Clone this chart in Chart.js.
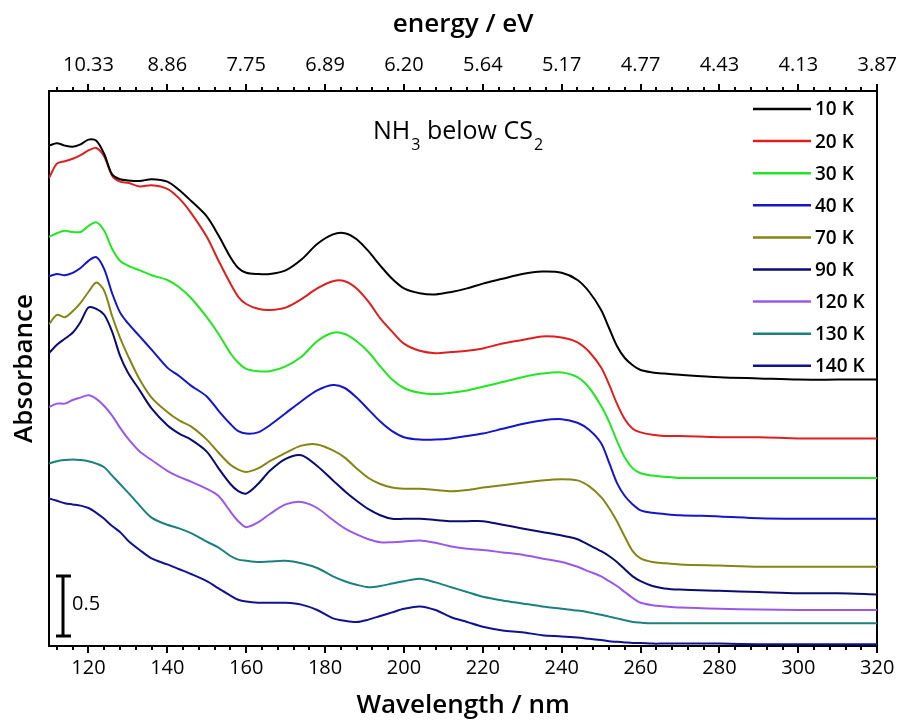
<!DOCTYPE html>
<html>
<head>
<meta charset="utf-8">
<script src="https://cdn.jsdelivr.net/npm/chart.js@4.4.0/dist/chart.umd.min.js"></script>
<style>
  html, body { margin: 0; padding: 0; background: #fff; }
  #wrap { width: 904px; height: 721px; }
</style>
</head>
<body>
<div id="wrap"><canvas id="myChart" width="904" height="721"></canvas></div>
<script>
const wavelength = [110, 112, 114, 116, 118, 120, 122, 124, 126, 128, 130, 133, 136, 140, 143, 146, 150, 153, 156, 158,
  160, 163, 166, 170, 174, 178, 182, 185, 188, 191, 194, 197, 200, 204, 208, 212, 216, 220, 225, 230,
  235, 240, 244, 247, 250, 252, 254, 256, 258, 260, 263, 266, 270, 280, 290, 300, 310, 320];

const tempLabels = ['10 K', '20 K', '30 K', '40 K', '70 K', '90 K', '120 K', '130 K', '140 K'];
const tempColors = ['#000000', '#dd1f1f', '#22e622', '#1515cc', '#858515', '#0b0b70', '#9a58e8', '#1a8080', '#12128f'];

const abs10 = [4.17, 4.19, 4.17, 4.16, 4.18, 4.22, 4.21, 4.10, 3.93, 3.89, 3.88, 3.875, 3.89, 3.87, 3.80, 3.71, 3.58, 3.42, 3.24, 3.15,
  3.11, 3.10, 3.10, 3.13, 3.22, 3.35, 3.43, 3.44, 3.39, 3.29, 3.17, 3.06, 2.98, 2.94, 2.93, 2.95, 2.98, 3.02, 3.06, 3.10,
  3.12, 3.11, 3.05, 2.95, 2.80, 2.65, 2.50, 2.40, 2.34, 2.30, 2.28, 2.27, 2.26, 2.24, 2.23, 2.22, 2.22, 2.22];
const abs20 = [3.90, 4.02, 4.04, 4.06, 4.09, 4.13, 4.15, 4.08, 3.92, 3.87, 3.86, 3.83, 3.84, 3.81, 3.73, 3.61, 3.41, 3.21, 3.02, 2.91,
  2.85, 2.81, 2.80, 2.82, 2.89, 2.98, 3.04, 3.04, 2.98, 2.87, 2.73, 2.62, 2.52, 2.46, 2.44, 2.45, 2.46, 2.48, 2.52, 2.55,
  2.58, 2.57, 2.53, 2.45, 2.32, 2.18, 2.02, 1.89, 1.81, 1.78, 1.76, 1.75, 1.75, 1.74, 1.74, 1.73, 1.73, 1.73];
const abs30 = [3.41, 3.44, 3.46, 3.45, 3.45, 3.50, 3.53, 3.46, 3.31, 3.21, 3.17, 3.13, 3.09, 3.05, 2.99, 2.90, 2.74, 2.60, 2.44, 2.36,
  2.31, 2.29, 2.29, 2.33, 2.41, 2.54, 2.61, 2.60, 2.54, 2.45, 2.33, 2.22, 2.15, 2.11, 2.10, 2.11, 2.13, 2.16, 2.20, 2.24,
  2.27, 2.28, 2.24, 2.15, 2.00, 1.87, 1.71, 1.57, 1.48, 1.44, 1.42, 1.41, 1.40, 1.40, 1.40, 1.40, 1.40, 1.40];
const abs40 = [3.08, 3.10, 3.09, 3.11, 3.15, 3.21, 3.24, 3.14, 2.94, 2.78, 2.69, 2.58, 2.47, 2.32, 2.25, 2.17, 2.08, 1.96, 1.85, 1.79,
  1.77, 1.78, 1.84, 1.94, 2.04, 2.13, 2.175, 2.15, 2.07, 1.97, 1.87, 1.79, 1.74, 1.72, 1.72, 1.73, 1.75, 1.77, 1.81, 1.85,
  1.88, 1.89, 1.86, 1.80, 1.69, 1.53, 1.36, 1.25, 1.18, 1.13, 1.11, 1.10, 1.09, 1.08, 1.065, 1.06, 1.06, 1.06];
const abs70 = [2.68, 2.76, 2.74, 2.79, 2.86, 2.95, 3.03, 2.96, 2.75, 2.57, 2.42, 2.22, 2.07, 1.95, 1.88, 1.83, 1.72, 1.61, 1.51, 1.47,
  1.45, 1.48, 1.54, 1.61, 1.67, 1.68, 1.63, 1.57, 1.48, 1.40, 1.35, 1.32, 1.31, 1.31, 1.30, 1.29, 1.30, 1.32, 1.34, 1.36,
  1.38, 1.39, 1.38, 1.33, 1.24, 1.15, 1.04, 0.91, 0.79, 0.73, 0.70, 0.69, 0.68, 0.67, 0.66, 0.66, 0.66, 0.66];
const abs90 = [2.44, 2.51, 2.56, 2.61, 2.70, 2.82, 2.81, 2.76, 2.62, 2.42, 2.28, 2.13, 1.98, 1.84, 1.77, 1.72, 1.62, 1.48, 1.35, 1.29,
  1.27, 1.35, 1.46, 1.56, 1.59, 1.50, 1.38, 1.29, 1.21, 1.14, 1.09, 1.06, 1.06, 1.06, 1.05, 1.04, 1.04, 1.04, 1.01, 0.98,
  0.95, 0.92, 0.89, 0.84, 0.79, 0.75, 0.70, 0.64, 0.58, 0.54, 0.50, 0.48, 0.47, 0.46, 0.45, 0.44, 0.44, 0.43];
const abs120 = [1.99, 2.02, 2.02, 2.05, 2.07, 2.09, 2.06, 2.00, 1.92, 1.82, 1.73, 1.62, 1.55, 1.46, 1.41, 1.37, 1.31, 1.25, 1.12, 1.04,
  0.99, 1.03, 1.10, 1.18, 1.20, 1.15, 1.05, 0.98, 0.93, 0.89, 0.865, 0.865, 0.87, 0.88, 0.86, 0.83, 0.81, 0.80, 0.78, 0.76,
  0.73, 0.70, 0.66, 0.62, 0.58, 0.54, 0.50, 0.45, 0.40, 0.36, 0.34, 0.33, 0.32, 0.31, 0.305, 0.30, 0.30, 0.30];
const abs130 = [1.52, 1.54, 1.55, 1.555, 1.55, 1.54, 1.52, 1.49, 1.42, 1.35, 1.28, 1.17, 1.07, 1.01, 0.98, 0.94, 0.87, 0.82, 0.75, 0.72,
  0.71, 0.70, 0.705, 0.71, 0.69, 0.65, 0.58, 0.54, 0.51, 0.49, 0.50, 0.52, 0.54, 0.56, 0.53, 0.49, 0.45, 0.41, 0.38, 0.355,
  0.33, 0.31, 0.295, 0.28, 0.26, 0.245, 0.23, 0.215, 0.20, 0.195, 0.19, 0.19, 0.19, 0.19, 0.19, 0.19, 0.19, 0.19];
const abs140 = [1.23, 1.21, 1.19, 1.18, 1.17, 1.15, 1.11, 1.06, 1.00, 0.95, 0.88, 0.80, 0.73, 0.68, 0.64, 0.60, 0.54, 0.48, 0.42, 0.385,
  0.37, 0.36, 0.36, 0.36, 0.345, 0.30, 0.23, 0.21, 0.20, 0.22, 0.25, 0.28, 0.31, 0.33, 0.30, 0.24, 0.20, 0.16, 0.13, 0.115,
  0.09, 0.08, 0.07, 0.06, 0.05, 0.04, 0.035, 0.03, 0.025, 0.025, 0.02, 0.02, 0.02, 0.02, 0.015, 0.015, 0.015, 0.015];

const allSeries = [abs10, abs20, abs30, abs40, abs70, abs90, abs120, abs130, abs140];

const wlTicks = [120, 140, 160, 180, 200, 220, 240, 260, 280, 300, 320];
const energyTicks = ['10.33', '8.86', '7.75', '6.89', '6.20', '5.64', '5.17', '4.77', '4.43', '4.13', '3.87'];

const FONT = "'Open Sans', 'Noto Sans', sans-serif";

const datasets = allSeries.map((s, i) => ({
  label: tempLabels[i],
  data: wavelength.map((w, j) => ({ x: w, y: s[j] })),
  borderColor: tempColors[i],
  borderWidth: 2,
  pointRadius: 0,
  tension: 0.3,
  fill: false
}));

const setTicks = (axis) => { axis.ticks = wlTicks.map(v => ({ value: v })); };

// minor ticks, scale bar, inner title and legend
const extras = {
  id: 'extras',
  afterDraw(chart) {
    const ctx = chart.ctx;
    const xs = chart.scales.x;
    const ys = chart.scales.y;
    const area = chart.chartArea;
    ctx.save();
    ctx.strokeStyle = '#000';
    ctx.lineWidth = 2;
    for (let v = 112; v < 320; v += 4) {
      if (v % 20 === 0) continue;
      const px = Math.round(xs.getPixelForValue(v));
      ctx.beginPath();
      ctx.moveTo(px, area.bottom);
      ctx.lineTo(px, area.bottom + 4);
      ctx.moveTo(px, area.top);
      ctx.lineTo(px, area.top - 4);
      ctx.stroke();
    }

    // 0.5 scale bar
    const yb = ys.getPixelForValue(0.083);
    const yt = ys.getPixelForValue(0.583);
    ctx.lineWidth = 3;
    ctx.beginPath();
    ctx.moveTo(63, yb); ctx.lineTo(63, yt);
    ctx.moveTo(56, yb); ctx.lineTo(71, yb);
    ctx.moveTo(56, yt); ctx.lineTo(71, yt);
    ctx.stroke();
    ctx.fillStyle = '#000';
    ctx.font = '20px ' + FONT;
    ctx.textBaseline = 'middle';
    ctx.textAlign = 'left';
    ctx.fillText('0.5', 72, (yb + yt) / 2 - 2);

    // title NH3 below CS2
    ctx.textBaseline = 'alphabetic';
    let tx = 373;
    const big = '25px ' + FONT;
    const small = '16px ' + FONT;
    ctx.font = big;
    ctx.fillText('NH', tx, 139);
    tx += ctx.measureText('NH').width + 1;
    ctx.font = small;
    ctx.fillText('3', tx, 150);
    tx += ctx.measureText('3').width;
    ctx.font = big;
    ctx.fillText(' below CS', tx, 139);
    tx += ctx.measureText(' below CS').width + 1;
    ctx.font = small;
    ctx.fillText('2', tx, 150);

    // legend
    ctx.font = '600 19px ' + FONT;
    ctx.textBaseline = 'middle';
    tempLabels.forEach((lab, i) => {
      const y = 109 + i * 32.1;
      ctx.strokeStyle = tempColors[i];
      ctx.lineWidth = 2.5;
      ctx.beginPath();
      ctx.moveTo(753, y);
      ctx.lineTo(811, y);
      ctx.stroke();
      ctx.fillStyle = '#000';
      ctx.fillText(lab, 815, y + 1);
    });
    ctx.restore();
  }
};

const titleFont = { family: FONT, size: 26, weight: '600' };

const chart = new Chart('myChart', {
  type: 'line',
  data: { datasets: datasets },
  options: {
    responsive: false,
    animation: false,
    layout: { padding: 0 },
    plugins: {
      legend: { display: false },
      tooltip: { enabled: false }
    },
    scales: {
      x: {
        type: 'linear',
        position: 'bottom',
        min: 110,
        max: 320,
        afterBuildTicks: setTicks,
        afterFit: (s) => { s.height = 75; },
        grid: { display: true, drawOnChartArea: false, drawTicks: true, tickLength: 7, color: '#000', lineWidth: 2 },
        border: { display: true, color: '#000', width: 2 },
        ticks: { autoSkip: false, maxRotation: 0, padding: 3, color: '#000', font: { family: FONT, size: 20 } },
        title: { display: true, text: 'Wavelength / nm', color: '#000', font: titleFont, padding: { top: 0, bottom: 0 } }
      },
      x2: {
        type: 'linear',
        position: 'top',
        min: 110,
        max: 320,
        afterBuildTicks: setTicks,
        afterFit: (s) => { s.height = 91; },
        grid: { display: true, drawOnChartArea: false, drawTicks: true, tickLength: 7, color: '#000', lineWidth: 2 },
        border: { display: true, color: '#000', width: 2 },
        ticks: {
          autoSkip: false, maxRotation: 0, padding: 7, color: '#000', font: { family: FONT, size: 20 },
          callback: (v) => energyTicks[wlTicks.indexOf(v)]
        },
        title: { display: true, text: 'energy / eV', color: '#000', font: titleFont, padding: { top: 9, bottom: 0 } }
      },
      y: {
        type: 'linear',
        position: 'left',
        min: 0,
        max: 4.625,
        afterFit: (s) => { s.width = 49; },
        grid: { display: false },
        border: { display: true, color: '#000', width: 2 },
        ticks: { display: false },
        title: { display: true, text: 'Absorbance', color: '#000', font: titleFont, padding: { top: 9, bottom: 0 } }
      },
      y2: {
        type: 'linear',
        position: 'right',
        min: 0,
        max: 4.625,
        afterFit: (s) => { s.width = 26; },
        grid: { display: false },
        border: { display: true, color: '#000', width: 2 },
        ticks: { display: false }
      }
    }
  },
  plugins: [extras]
});
</script>
</body>
</html>
